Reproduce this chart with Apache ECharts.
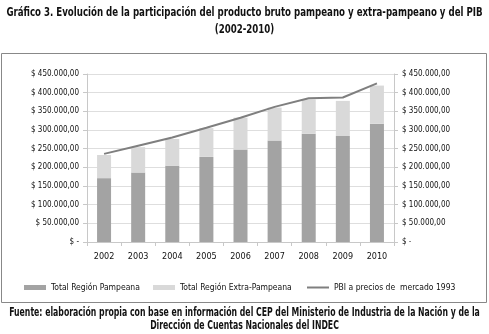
<!DOCTYPE html>
<html>
<head>
<meta charset="utf-8">
<script src="https://cdn.jsdelivr.net/npm/echarts@6/dist/echarts.min.js"></script>
<style>
  html, body { margin: 0; padding: 0; background: #fff; }
  #chart { width: 489px; height: 334px; }
</style>
</head>
<body>
<div id="chart"></div>
<script>
const years = ['2002', '2003', '2004', '2005', '2006', '2007', '2008', '2009', '2010'];
const pampeana = [171000, 186000, 204000, 228000, 248000, 272000, 290000, 284000, 317000];
const extraPampeana = [62000, 68000, 72000, 77000, 85000, 88000, 92000, 94000, 102000];
const pbi = [236000, 258000, 280000, 306000, 333000, 362000, 385000, 387000, 425000];

const narrow = '"Liberation Sans Narrow", "DejaVu Sans Condensed", sans-serif';

function money(v) {
  if (v === 0) return '$ -';
  return '$ ' + v.toString().replace(/\B(?=(\d{3})+(?!\d))/g, '.') + ',00';
}

const chart = echarts.init(document.getElementById('chart'));

const yAxisBase = {
  type: 'value',
  min: 0,
  max: 450000,
  interval: 50000,
  axisLine: { show: true, lineStyle: { color: '#c8c8c8' } },
  axisTick: { show: true, length: 4, lineStyle: { color: '#c8c8c8' } },
  axisLabel: { formatter: money, color: '#111', fontFamily: narrow, fontSize: 8, margin: 8 },
  splitLine: { lineStyle: { color: '#dedede' } }
};

const legendText = { fontFamily: narrow, fontSize: 8.5, color: '#111' };

const option = {
  animation: false,
  graphic: [
    {
      type: 'rect',
      shape: { x: 1.5, y: 53.5, width: 485, height: 249 },
      style: { fill: null, stroke: '#888', lineWidth: 1 },
      silent: true
    },
    {
      type: 'text',
      x: 244.5, y: 4, scaleX: 0.8,
      style: {
        text: 'Gráfico 3. Evolución de la participación del producto bruto pampeano y extra-pampeano y del PIB\n(2002-2010)',
        align: 'center', verticalAlign: 'top',
        font: 'bold 12px ' + narrow, fill: '#111', lineHeight: 17
      }
    },
    {
      type: 'text',
      x: 244.5, y: 307, scaleX: 0.75,
      style: {
        text: 'Fuente: elaboración propia con base en información del CEP del Ministerio de Industria de la Nación y de la\nDirección de Cuentas Nacionales del INDEC',
        align: 'center', verticalAlign: 'top',
        font: 'bold 11.5px ' + narrow, fill: '#111', lineHeight: 13
      }
    }
  ],
  legend: [
    {
      top: 283, left: 24, padding: 0, itemWidth: 22, itemHeight: 5, textStyle: legendText,
      data: [{ name: 'Total Región Pampeana', icon: 'rect' }]
    },
    {
      top: 283, left: 153, padding: 0, itemWidth: 22, itemHeight: 5, textStyle: legendText,
      data: [{ name: 'Total Región Extra-Pampeana', icon: 'rect' }]
    },
    {
      top: 283, left: 307, padding: 0, itemWidth: 22, itemHeight: 2, textStyle: legendText,
      data: [{ name: 'PBI a precios de  mercado 1993', icon: 'rect' }]
    }
  ],
  grid: { left: 87, right: 95, top: 74, bottom: 92 },
  xAxis: {
    type: 'category',
    data: years,
    axisLine: { lineStyle: { color: '#c8c8c8' } },
    axisTick: { show: true, length: 4, lineStyle: { color: '#c8c8c8' } },
    axisLabel: { color: '#111', fontFamily: narrow, fontSize: 9, margin: 10 }
  },
  yAxis: [
    Object.assign({}, yAxisBase, { position: 'left' }),
    Object.assign({}, yAxisBase, { position: 'right', splitLine: { show: false } })
  ],
  series: [
    {
      name: 'Total Región Pampeana',
      type: 'bar',
      stack: 'total',
      barWidth: 14,
      itemStyle: { color: '#a3a3a3' },
      data: pampeana
    },
    {
      name: 'Total Región Extra-Pampeana',
      type: 'bar',
      stack: 'total',
      barWidth: 14,
      itemStyle: { color: '#d9d9d9' },
      data: extraPampeana
    },
    {
      name: 'PBI a precios de  mercado 1993',
      type: 'line',
      symbol: 'none',
      lineStyle: { color: '#7f7f7f', width: 2 },
      itemStyle: { color: '#7f7f7f' },
      data: pbi
    }
  ]
};

chart.setOption(option);
</script>
</body>
</html>
